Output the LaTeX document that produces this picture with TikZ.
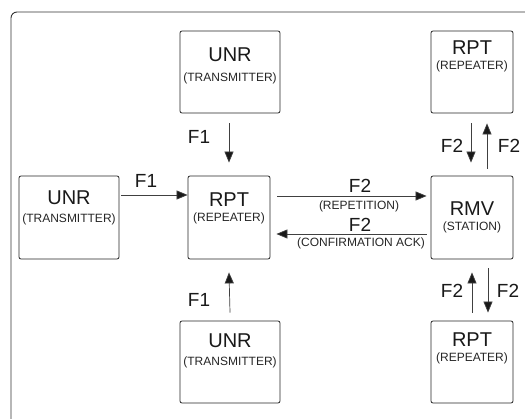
\documentclass[tikz,border=0pt]{standalone}
\usepackage{fontspec}
\setmainfont{Liberation Sans}
\usetikzlibrary{arrows.meta}
\begin{document}
\begin{tikzpicture}[x=1pt,y=-1pt,
  box/.style={draw=black!85, line width=0.8pt, rounded corners=2pt, inner sep=0pt},
  ttl/.style={anchor=base, inner sep=0pt, font=\fontsize{20}{20}\selectfont, text=black!90},
  sub/.style={anchor=base, inner sep=0pt, font=\fontsize{12}{12}\selectfont, text=black!85},
  lbl/.style={anchor=base, inner sep=0pt, font=\fontsize{19}{19}\selectfont, text=black!90},
  arr/.style={draw=black!75, line width=0.7pt, -{Triangle[length=11pt,width=9pt,fill=black!90]}}]
\useasboundingbox (0,0) rectangle (525,419);
\clip (0,0) rectangle (525,419);
\fill[white] (0,0) rectangle (525,419);
% outer frame
\draw[black!80, line width=0.9pt, rounded corners=6pt] (11,12) rectangle (560,460);
% boxes
\node[box, minimum width=100pt, minimum height=82pt] (utop) at (230,72) {};
\node[box, minimum width=82pt, minimum height=82pt] (rtop) at (472,72) {};
\node[box, minimum width=100pt, minimum height=83pt] (uleft) at (69,217.5) {};
\node[box, minimum width=82pt, minimum height=83pt] (rpt) at (229,217.5) {};
\node[box, minimum width=82pt, minimum height=83pt] (rmv) at (472,217.5) {};
\node[box, minimum width=100pt, minimum height=82pt] (ubot) at (230,362) {};
\node[box, minimum width=82pt, minimum height=82pt] (rbot) at (472,362) {};
% box texts
\node[ttl] (utopA) at (230,62) {UNR};
\node[sub] (utopB) at (230,82) {(TRANSMITTER)};
\node[ttl] (rtopA) at (472,55) {RPT};
\node[sub] (rtopB) at (472,70) {(REPEATER)};
\node[ttl] (uleftA) at (69,205) {UNR};
\node[sub] (uleftB) at (69,223) {(TRANSMITTER)};
\node[ttl] (rptA) at (229,207) {RPT};
\node[sub] (rptB) at (229,222) {(REPEATER)};
\node[ttl] (rmvA) at (472,216) {RMV};
\node[sub] (rmvB) at (472,231) {(STATION)};
\node[ttl] (ubotA) at (230,348) {UNR};
\node[sub] (ubotB) at (230,366) {(TRANSMITTER)};
\node[ttl] (rbotA) at (472,347) {RPT};
\node[sub] (rbotB) at (472,362) {(REPEATER)};
% arrows
\draw[arr] ([xshift=-1pt,yshift=-10pt]utop.south) -- ([yshift=13pt]rpt.north);
\draw[arr] ([yshift=8pt]ubot.north) -- ([yshift=-13pt]rpt.south);
\draw[arr] ([xshift=2pt,yshift=22.5pt]uleft.east) -- ([yshift=22.5pt]rpt.west);
\draw[arr] ([xshift=7pt,yshift=21.5pt]rpt.east) -- ([xshift=-4pt,yshift=21.5pt]rmv.west);
\draw[arr] ([xshift=-4pt,yshift=-16.5pt]rmv.west) -- ([xshift=6pt,yshift=-16.5pt]rpt.east);
\draw[arr] ([xshift=-1pt,yshift=-10pt]rtop.south) -- ([xshift=-1pt,yshift=13pt]rmv.north);
\draw[arr] ([xshift=15pt,yshift=7pt]rmv.north) -- ([xshift=15pt,yshift=-10pt]rtop.south);
\draw[arr] ([xshift=0pt,yshift=8pt]rbot.north) -- ([xshift=0pt,yshift=-13pt]rmv.south);
\draw[arr] ([xshift=16pt,yshift=-9pt]rmv.south) -- ([xshift=16pt,yshift=8pt]rbot.north);
% labels
\node[lbl] (f1a) at (199,144) {F1};
\node[lbl] (f1b) at (199,307) {F1};
\node[lbl] (f1c) at (146,188) {F1};
\node[lbl] (f2a) at (360,193) {F2};
\node[sub] (repa) at (359,210) {(REPETITION)};
\node[lbl] (f2b) at (360,232) {F2};
\node[sub] (cack) at (361,247) {(CONFIRMATION ACK)};
\node[lbl] (f2c) at (452,153) {F2};
\node[lbl] (f2d) at (509,153) {F2};
\node[lbl] (f2e) at (452,298) {F2};
\node[lbl] (f2f) at (508,298) {F2};
\end{tikzpicture}
\end{document}
